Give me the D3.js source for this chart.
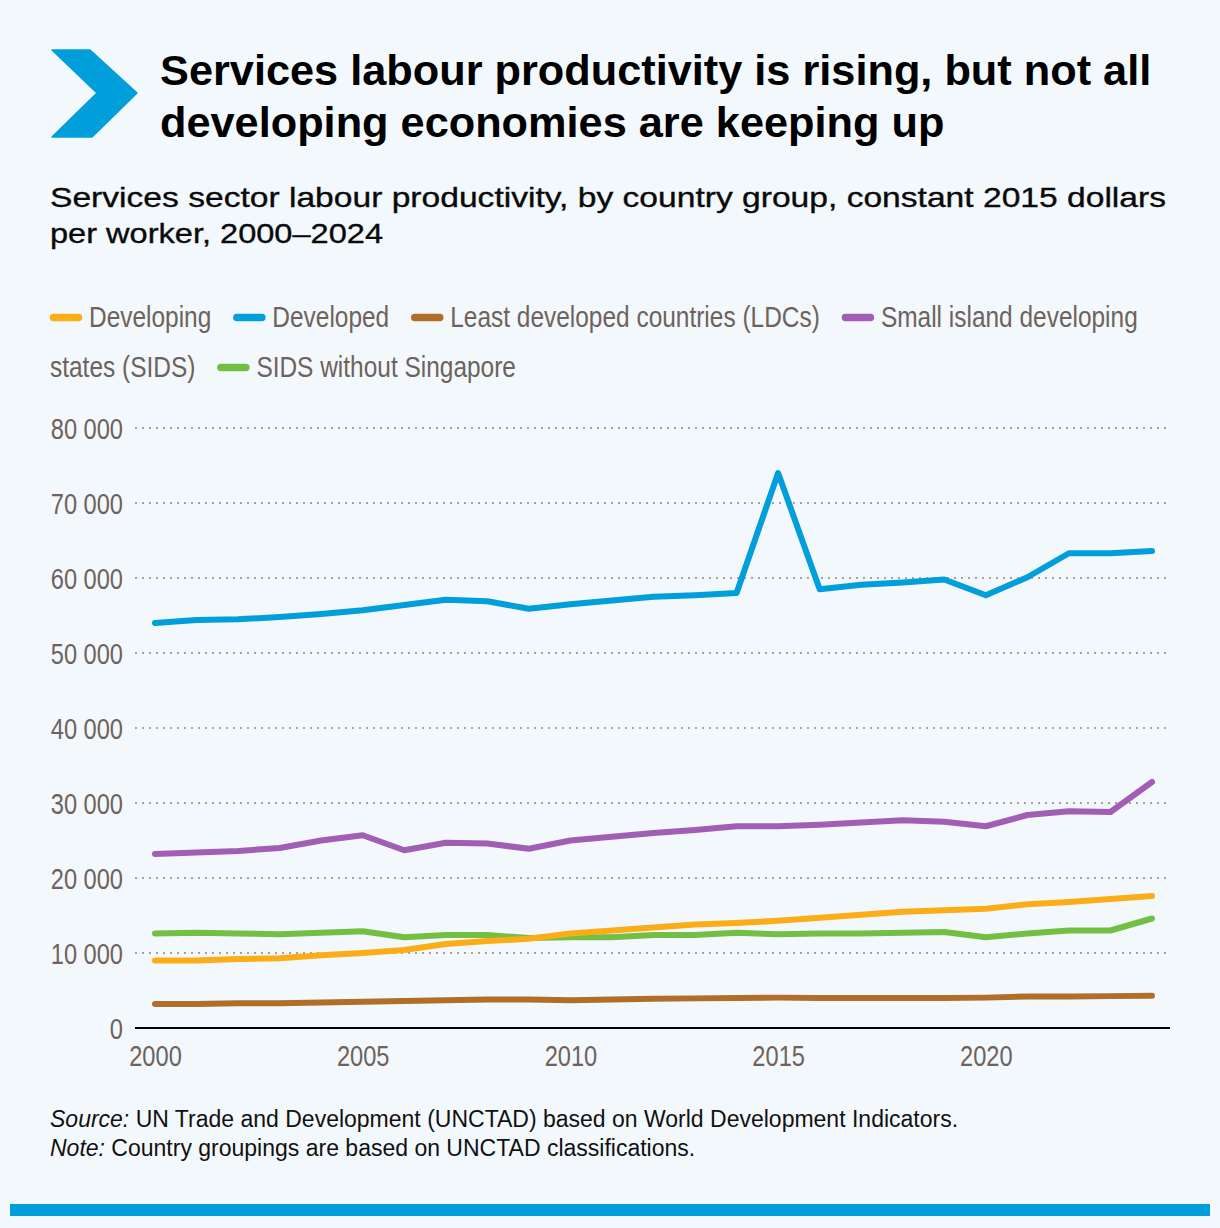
<!DOCTYPE html>
<html>
<head>
<meta charset="utf-8">
<script src="https://cdn.jsdelivr.net/npm/d3@7"></script>
<style>
  html, body { margin: 0; padding: 0; background: #f3f8fc; }
  svg { display: block; }
</style>
</head>
<body>
<svg id="chart" width="1220" height="1228"></svg>
<script>
const years = d3.range(2000, 2025);
const developing = [9.0, 9.0, 9.2, 9.3, 9.7, 10.0, 10.4, 11.2, 11.6, 11.9, 12.6, 13.0, 13.4, 13.8, 14.0, 14.3, 14.7, 15.1, 15.5, 15.7, 15.9, 16.5, 16.8, 17.2, 17.6].map(v => v * 1000);
const developed = [54.0, 54.4, 54.5, 54.8, 55.2, 55.7, 56.4, 57.1, 56.9, 55.9, 56.5, 57.0, 57.5, 57.7, 58.0, 74.0, 58.5, 59.1, 59.4, 59.8, 57.7, 60.1, 63.3, 63.3, 63.6].map(v => v * 1000);
const ldcs = [3.2, 3.2, 3.3, 3.3, 3.4, 3.5, 3.6, 3.7, 3.8, 3.8, 3.7, 3.8, 3.9, 3.95, 4.0, 4.05, 4.0, 4.0, 4.0, 4.0, 4.05, 4.2, 4.2, 4.25, 4.3].map(v => v * 1000);
const sids = [23.2, 23.4, 23.6, 24.0, 25.0, 25.7, 23.7, 24.7, 24.6, 23.9, 25.0, 25.5, 26.0, 26.4, 26.9, 26.9, 27.1, 27.4, 27.7, 27.5, 26.9, 28.4, 28.9, 28.8, 32.8].map(v => v * 1000);
const sidsNoSg = [12.6, 12.7, 12.6, 12.5, 12.7, 12.9, 12.1, 12.4, 12.4, 12.0, 12.1, 12.1, 12.4, 12.4, 12.7, 12.5, 12.6, 12.6, 12.7, 12.8, 12.1, 12.6, 13.0, 13.0, 14.6].map(v => v * 1000);

const seriesNames = ["Developing", "Developed", "Least developed countries (LDCs)", "Small island developing states (SIDS)", "SIDS without Singapore"];
const seriesValues = [developing, developed, ldcs, sids, sidsNoSg];
const seriesColors = ["#fbad18", "#009edb", "#b06e2a", "#a05fb4", "#72bf44"];
const yTicks = [0, 10000, 20000, 30000, 40000, 50000, 60000, 70000, 80000];
const xTicks = [2000, 2005, 2010, 2015, 2020];

const titleLines = ["Services labour productivity is rising, but not all", "developing economies are keeping up"];
const subtitleLines = ["Services sector labour productivity, by country group, constant 2015 dollars", "per worker, 2000\u20132024"];

const svg = d3.select("#chart");
const W = 1220, H = 1228;
const sans = "'Liberation Sans', Arial, Helvetica, sans-serif";
const grey = "#6d635c";
const condense = 0.815;

svg.append("rect").attr("width", W).attr("height", H).attr("fill", "#f3f8fc");

// Chevron logo
svg.append("path")
  .attr("d", "M52,50 L90,50 L137,93 L92,137 L52,137 L97,93 Z")
  .attr("fill", "#009edb")
  .attr("stroke", "#009edb").attr("stroke-width", 1.5).attr("stroke-linejoin", "round");

// Title
svg.append("g").selectAll("text").data(titleLines).join("text")
  .attr("x", 160).attr("y", (d, i) => 85 + i * 52)
  .attr("font-family", sans).attr("font-weight", "bold").attr("font-size", 43.3)
  .attr("fill", "#000").text(d => d);

// Subtitle
const subLens = [1116, 333];
svg.append("g").selectAll("text").data(subtitleLines).join("text")
  .attr("x", 50).attr("y", (d, i) => 207 + i * 36)
  .attr("font-family", sans).attr("font-size", 28.5)
  .attr("textLength", (d, i) => subLens[i]).attr("lengthAdjust", "spacingAndGlyphs")
  .attr("stroke", "#0a0a0a").attr("stroke-width", 0.35)
  .attr("fill", "#0a0a0a").text(d => d);

// Legend (flow layout with word wrapping, condensed text)
const legend = svg.append("g").attr("font-family", sans).attr("font-size", 30).attr("fill", grey);
const legLeft = 50, legRight = 1180, legBase0 = 327, legLineH = 50;
const measure = legend.append("text").attr("visibility", "hidden");
function tw(s) { measure.text(s); return measure.node().getComputedTextLength() * condense; }
function legText(x0, y0, s) {
  legend.append("text").attr("transform", `translate(${x0},${y0}) scale(${condense},1)`).text(s);
}
let lx = legLeft, line = 0;
seriesNames.forEach((name, i) => {
  if (lx + 39 + tw(name.split(" ")[0]) > legRight) { line++; lx = legLeft; }
  const by = legBase0 + line * legLineH;
  legend.append("line")
    .attr("x1", lx + 3.5).attr("x2", lx + 28.5).attr("y1", by - 9.5).attr("y2", by - 9.5)
    .attr("stroke", seriesColors[i]).attr("stroke-width", 7.5).attr("stroke-linecap", "round");
  let startX = lx + 39;
  let cur = "";
  name.split(" ").forEach(w => {
    const trial = cur ? cur + " " + w : w;
    if (startX + tw(trial) > legRight && cur) {
      legText(startX, legBase0 + line * legLineH, cur);
      line++; startX = legLeft; cur = w;
    } else cur = trial;
  });
  legText(startX, legBase0 + line * legLineH, cur);
  lx = startX + tw(cur) + 22;
});
measure.remove();

// Scales
const x = d3.scaleLinear().domain([2000, 2024]).range([155, 1152]);
const y = d3.scaleLinear().domain([0, 80000]).range([1028, 428]);
const plotLeft = 135, plotRight = 1170;

// Gridlines
svg.append("g").selectAll("line").data(yTicks.filter(d => d > 0)).join("line")
  .attr("x1", plotLeft).attr("x2", plotRight)
  .attr("y1", d => y(d)).attr("y2", d => y(d))
  .attr("stroke", "#a9a29c").attr("stroke-width", 2).attr("stroke-dasharray", "2,5");

// Y axis
const yAxis = d3.axisLeft(y).tickValues(yTicks).tickSize(0).tickPadding(0)
  .tickFormat(d => d3.format(",")(d).replace(/,/g, " "));
const yg = svg.append("g").attr("transform", "translate(123,0)").call(yAxis);
yg.select(".domain").remove();
yg.selectAll("text").attr("font-family", sans).attr("font-size", 29).attr("fill", grey)
  .attr("dy", "0.35em").attr("transform", `scale(${condense},1)`);

// X axis
const xAxis = d3.axisBottom(x).tickValues(xTicks).tickSize(0).tickPadding(0).tickFormat(d3.format("d"));
const xg = svg.append("g").attr("transform", "translate(0,1028)").call(xAxis);
xg.select(".domain").remove();
xg.selectAll("text").attr("font-family", sans).attr("font-size", 29).attr("fill", grey)
  .attr("dy", null).attr("y", 38).attr("transform", `scale(${condense},1)`);
svg.append("line").attr("x1", plotLeft).attr("x2", plotRight).attr("y1", 1028).attr("y2", 1028)
  .attr("stroke", "#000").attr("stroke-width", 2);

// Lines
const lineGen = d3.line().x((d, i) => x(years[i])).y(d => y(d));
const drawOrder = [1, 3, 4, 0, 2];
svg.append("g").selectAll("path").data(drawOrder).join("path")
  .attr("d", i => lineGen(seriesValues[i]))
  .attr("fill", "none").attr("stroke", i => seriesColors[i])
  .attr("stroke-width", 6).attr("stroke-linejoin", "round").attr("stroke-linecap", "round");

// Source / Note
const src = svg.append("g").attr("font-family", sans).attr("font-size", 23).attr("fill", "#111");
const t1 = src.append("text").attr("x", 50).attr("y", 1127);
t1.append("tspan").attr("font-style", "italic").text("Source:");
t1.append("tspan").text(" UN Trade and Development (UNCTAD) based on World Development Indicators.");
const t2 = src.append("text").attr("x", 50).attr("y", 1156);
t2.append("tspan").attr("font-style", "italic").text("Note:");
t2.append("tspan").text(" Country groupings are based on UNCTAD classifications.");

// Bottom bar
svg.append("rect").attr("x", 10).attr("y", 1204).attr("width", 1200).attr("height", 12).attr("fill", "#009edb");
</script>
</body>
</html>
